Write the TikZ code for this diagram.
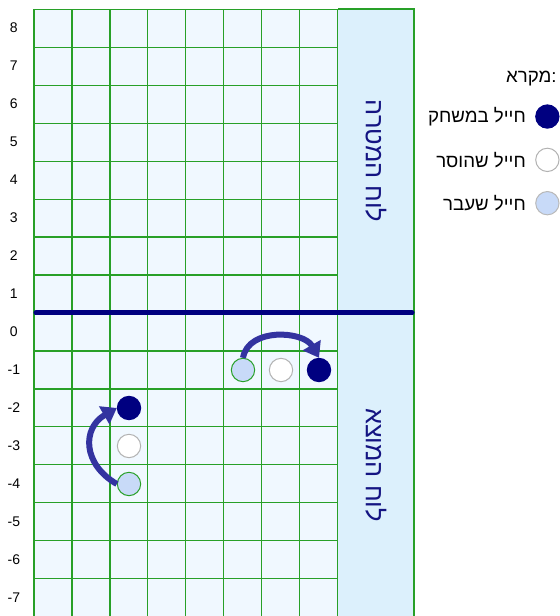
\documentclass[tikz,border=0pt]{standalone}
\usepackage{fontspec}
\setmainfont{Liberation Sans}
\newfontfamily\hebfont[Script=Hebrew]{Liberation Sans}
\usetikzlibrary{arrows.meta}
\TeXXeTstate=1

\definecolor{cellblue}{RGB}{240,248,255}
\definecolor{sideblue}{RGB}{220,240,252}
\definecolor{gridgreen}{RGB}{40,160,40}
\definecolor{darksoldier}{RGB}{0,0,128}
\definecolor{passedsoldier}{RGB}{200,218,248}
\definecolor{jumpblue}{RGB}{51,51,160}
\definecolor{labelblue}{RGB}{20,20,130}

\begin{document}
\begin{tikzpicture}[x=28.5pt,y=28.5pt,
  gridline/.style={draw=gridgreen, line width=1pt},
  soldier/.style={draw, circle, minimum size=17.5pt, inner sep=0pt, line width=0.75pt},
  inplay/.style={soldier, draw=darksoldier, fill=darksoldier},
  removed/.style={soldier, draw=gray!60, fill=white},
  passed/.style={soldier, draw=gridgreen, fill=passedsoldier},
  jump/.style={draw=jumpblue, line width=4.5pt, -{Triangle[length=11pt,width=15pt]}},
  sidelabel/.style={rotate=-90, text=labelblue, font=\hebfont\fontsize{19}{22}\selectfont},
  rowlabel/.style={font=\fontsize{10.5}{12}\selectfont},
  legendtext/.style={anchor=east, inner sep=0pt, font=\hebfont\fontsize{14}{16}\selectfont}]
\useasboundingbox (-0.895,-7.974) rectangle (13.816,8.237);

% --- BOARD ---
  \fill[cellblue] (0,-8) rectangle (8,8);
  \fill[sideblue] (8,-8) rectangle (10,8);
  \draw[gridline] (0,-8) grid (8,8);
  \draw[gridline] (8,8) -- (10,8) -- (10,-8);

  % starting line
  \draw[darksoldier, line width=3.75pt, line cap=round] (0.05,0) -- (9.95,0);

  % row numbers
\foreach \k in {-7,...,8} {
    \node[rowlabel] (row\k) at (-0.53,\k-0.5) {\k};
  }

  % side labels
  \node[sidelabel] (target) at (9,4) {\beginR לוח המטרה\endR};
  \node[sidelabel] (start) at (9,-4) {\beginR לוח המוצא\endR};

% --- SOLDIERS ---
  % sideways jump
  \node[passed] (a1) at (5.5,-1.5) {};
  \node[removed] (a2) at (6.5,-1.5) {};
  \node[inplay] (a3) at (7.5,-1.5) {};
  \draw[jump] (a1.north) to[out=80, in=120, looseness=1.05] (a3.north);

  % upward jump
  \node[passed] (b1) at (2.5,-4.5) {};
  \node[removed] (b2) at (2.5,-3.5) {};
  \node[inplay] (b3) at (2.5,-2.5) {};
  \draw[jump] (b1.west) to[bend left=60, looseness=1.35] (b3.west);

% --- LEGEND ---
  \node[legendtext] (legend) at (13.76,6.18) {\beginR מקרא\endR:};
  \node[inplay] (k1) at (13.51,5.17) {};
  \node[removed] (k2) at (13.51,4.03) {};
  \node[passed, draw=gray!55] (k3) at (13.51,2.89) {};
  \node[legendtext] (t1) at (12.95,5.17) {\beginR חייל במשחק\endR};
  \node[legendtext] (t2) at (12.95,4.03) {\beginR חייל שהוסר\endR};
  \node[legendtext] (t3) at (12.95,2.89) {\beginR חייל שעבר\endR};
\end{tikzpicture}
\end{document}
